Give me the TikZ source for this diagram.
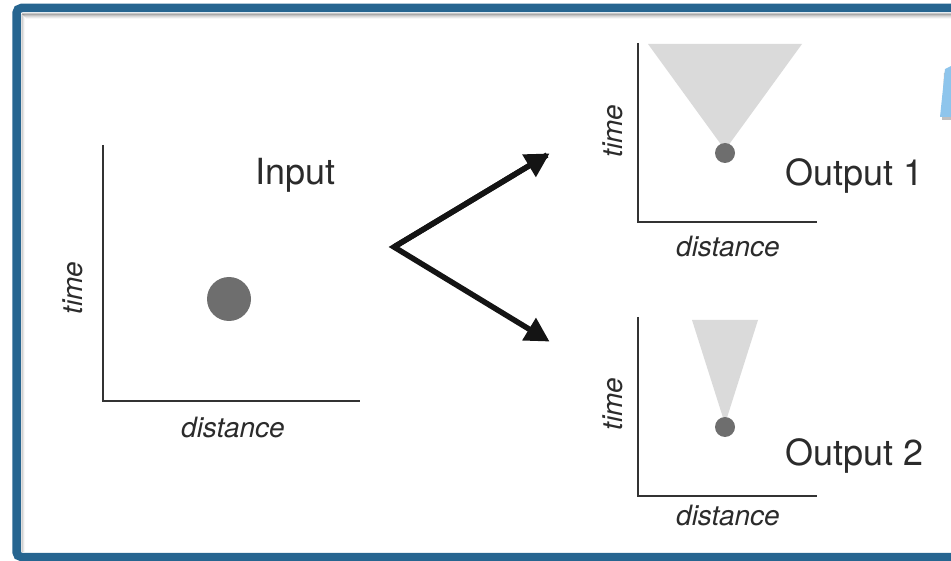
\documentclass[tikz,border=0pt]{standalone}
\usepackage{fontspec}
\setmainfont{TeX Gyre Heros}
\usetikzlibrary{arrows.meta}
\definecolor{frameblue}{HTML}{266590}
\definecolor{tipblue}{HTML}{8EC5EC}
\definecolor{axisgray}{HTML}{333333}
\definecolor{dotgray}{HTML}{6E6E6E}
\definecolor{conegray}{HTML}{DADADA}
\definecolor{txtgray}{HTML}{2B2B2B}
\tikzset{
  axis/.style={draw=axisgray, line width=2.4pt},
  dot/.style={circle, fill=dotgray, inner sep=0pt},
  cone/.style={fill=conegray, draw=none},
  bigtext/.style={font=\fontsize{36}{40}\selectfont, text=txtgray, inner sep=0pt, anchor=base west},
  axlabel/.style={font=\fontsize{28}{32}\selectfont\itshape, text=txtgray, inner sep=0pt},
  bigarrow/.style={draw=black!92, line width=5.5pt, -{Triangle[length=24pt,width=25pt]}, shorten >=-3pt},
}
\begin{document}
\begin{tikzpicture}[x=1pt,y=-1pt]
\useasboundingbox (0,0) rectangle (951,561);
\begin{scope}
\clip (0,0) rectangle (951,561);
% shadow inside frame
\foreach \i/\o in {0/0.22,1/0.15,2/0.10,3/0.06,4/0.03}{
  \draw[black, opacity=\o, line width=1.2pt] (22+\i,{14+\i}) -- (960,{14+\i});
}
\foreach \i/\o in {0/0.12,1/0.07,2/0.03}{
  \draw[black, opacity=\o, line width=1.2pt] ({22+\i},14) -- ({22+\i},552);
}
% frame
\draw[frameblue, line width=8.5pt, rounded corners=5pt] (16.5,8) rectangle (1000,557);
% light blue shape at right edge
\fill[black, opacity=0.25] (944,73) -- (953,69) -- (953,120) -- (942,120) -- cycle;
\fill[tipblue] (945,69) -- (951,66) -- (951,117) -- (940,117) -- cycle;
\end{scope}

% ---------- Input plot ----------
\coordinate (inTop) at (103,145);
\coordinate (inOrig) at (103,401);
\coordinate (inRight) at (360,401);
\draw[axis] (inTop) -- (inOrig) -- (inRight);
\node[dot, minimum size=44pt] (inDot) at (229,299) {};
\node[bigtext] (inLbl) at (255,185) {Input};
\node[axlabel, anchor=base west] (inDist) at (181,437) {distance};
\node[axlabel, rotate=90, anchor=base] (inTime) at (82,288) {time};

% ---------- arrows ----------
\coordinate (fork) at (394,247);
\coordinate (up) at (547,155);
\coordinate (down) at (547,340);
\draw[bigarrow, line join=miter] (up) -- (fork) -- (down);
\draw[bigarrow] (fork) -- (up);

% ---------- Output 1 ----------
\coordinate (o1Top) at (638,43);
\coordinate (o1Orig) at (638,222);
\coordinate (o1Right) at (817,222);
\fill[cone] (648,44) -- (802,44) -- (725,150) -- cycle;
\draw[axis] (o1Top) -- (o1Orig) -- (o1Right);
\node[dot, minimum size=20pt] (o1Dot) at (725,153) {};
\node[bigtext] (o1Lbl) at (785,186) {Output 1};
\node[axlabel, anchor=base west] (o1Dist) at (676,257) {distance};
\node[axlabel, rotate=90, anchor=base] (o1Time) at (622,131) {time};

% ---------- Output 2 ----------
\coordinate (o2Top) at (638,317);
\coordinate (o2Orig) at (638,496);
\coordinate (o2Right) at (817,496);
\fill[cone] (692,320) -- (758,320) -- (725,424) -- cycle;
\draw[axis] (o2Top) -- (o2Orig) -- (o2Right);
\node[dot, minimum size=20pt] (o2Dot) at (725,427) {};
\node[bigtext] (o2Lbl) at (785,465) {Output 2};
\node[axlabel, anchor=base west] (o2Dist) at (676,525) {distance};
\node[axlabel, rotate=90, anchor=base] (o2Time) at (622,404) {time};
\end{tikzpicture}
\end{document}
